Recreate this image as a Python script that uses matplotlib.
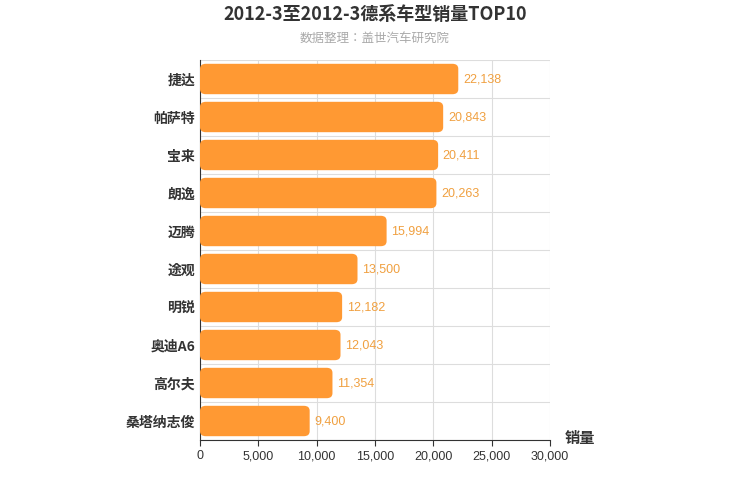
import matplotlib
matplotlib.use("Agg")
import matplotlib.pyplot as plt
from matplotlib import font_manager as fm
from matplotlib.patches import FancyBboxPatch

names = sorted({f.name for f in fm.fontManager.ttflist if 'CJK' in f.name and 'Sans' in f.name})
pref = [n for n in names if 'SC' in n] + names
plt.rcParams['font.family'] = (pref[:1] if pref else []) + ['DejaVu Sans']

categories = ["捷达", "帕萨特", "宝来", "朗逸", "迈腾", "途观", "明锐", "奥迪A6", "高尔夫", "桑塔纳志俊"]
values = [22138, 20843, 20411, 20263, 15994, 13500, 12182, 12043, 11354, 9400]
xticks = [0, 5000, 10000, 15000, 20000, 25000, 30000]

fig = plt.figure(figsize=(7.5, 5), dpi=100)
ax = fig.add_axes([200/750, 60/500, 350/750, 380/500])
n = len(categories)
ax.set_xlim(0, 30000)
ax.set_ylim(n - 0.5, -0.5)

bars = ax.barh(range(n), values, height=0.8, color='none')
for b in bars:
    x, y, w, h = b.get_x(), b.get_y(), b.get_width(), b.get_height()
    p = FancyBboxPatch((x, y), w, h, boxstyle="round,pad=0,rounding_size=500",
                       mutation_aspect=0.13/500, fc='#ff9933', ec='none', zorder=3)
    ax.add_patch(p)
    b.remove()
for i, v in enumerate(values):
    ax.text(v + 400, i, f"{v:,}", va='center', ha='left', color='#f0a040', fontsize=9,
            family='Liberation Sans', zorder=4)

ax.set_yticks(range(n))
ax.set_yticklabels(categories, fontsize=10, fontweight='bold', color='#333333')
ax.set_xticks(xticks)
ax.set_xticklabels([f"{t:,}" for t in xticks], fontsize=9, color='#333333', family='Liberation Sans')
for yb in [i - 0.5 for i in range(n + 1)]:
    ax.axhline(yb, color='#dddddd', lw=0.8, zorder=0)
for t in xticks:
    ax.axvline(t, color='#dddddd', lw=0.8, zorder=0)
ax.tick_params(axis='y', length=0)
ax.tick_params(axis='x', length=4, color='#333333')
for s in ['top', 'right']:
    ax.spines[s].set_visible(False)
ax.spines['left'].set_color('#333333')
ax.spines['bottom'].set_color('#333333')

fig.text(0.5, 0.972, "2012-3至2012-3德系车型销量TOP10", ha='center', va='center',
         fontsize=13, fontweight='bold', color='#333333')
fig.text(0.5, 0.924, "数据整理：盖世汽车研究院", ha='center', va='center', fontsize=9, color='#aaaaaa')
fig.text(565/750, 1 - 438/500, "销量", ha='left', va='center', fontsize=11, fontweight='bold', color='#333333')

fig.savefig("out.png", dpi=100)
